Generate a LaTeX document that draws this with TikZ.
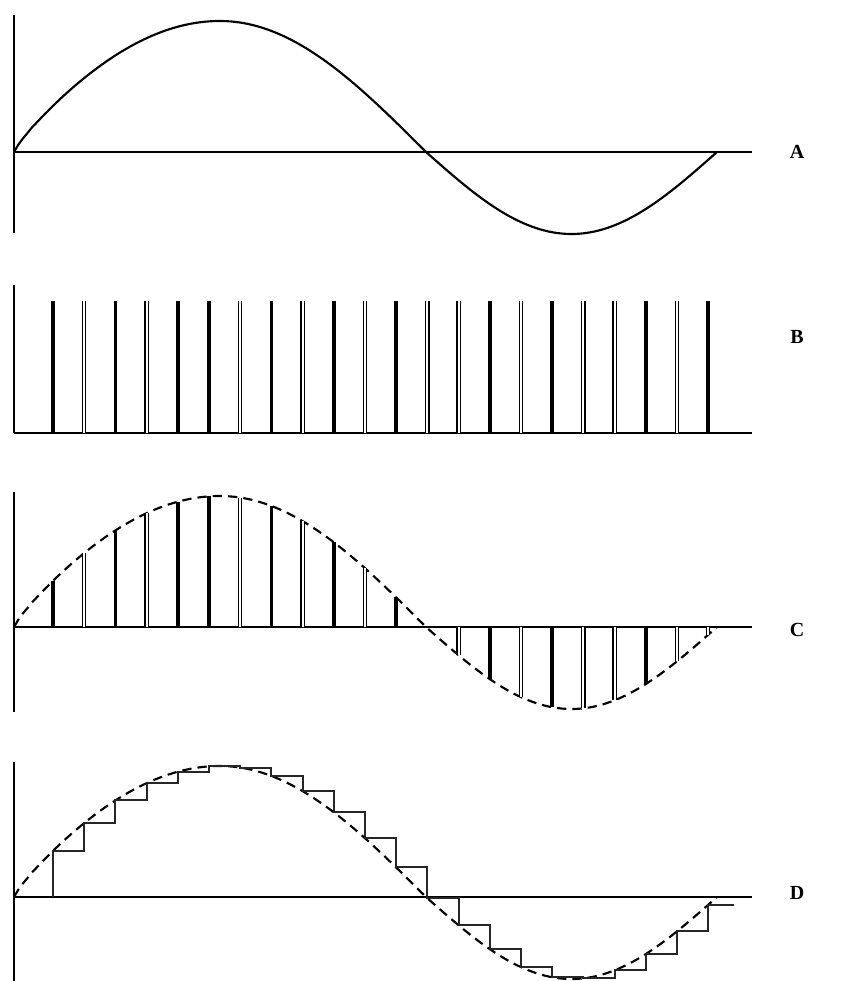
\documentclass[tikz,border=0pt]{standalone}
\usepackage{fontspec}
\setmainfont{Liberation Serif}
\usetikzlibrary{positioning}

\begin{document}
\begin{tikzpicture}[
    x=0.75pt, y=-0.75pt,
    declare function={
      wv(\xx) = (\xx<220)*131*(abs(sin((\xx-14)/412*180))+0.0001)^0.85
              + (\xx>=220)*(\xx<426)*131*sin((\xx-14)/412*180)
              - (\xx>=426)*82*sin((\xx-426)/291*180);
      sx(\kk) = 53+31.2*\kk;
    },
    axis/.style={line width=1.2pt},
    wave/.style={line width=1.6pt},
    dashwave/.style={line width=1.6pt, dash pattern=on 7pt off 4.5pt},
    fullbar/.style={line width=2.6pt},
    openbar/.style={double, line width=0.9pt, double distance=1.6pt},
    stairs/.style={line width=1.5pt, draw=black!85},
    letter/.style={font=\fontsize{15}{18}\selectfont\bfseries}
  ]
    \useasboundingbox (0,0) rectangle (861,981);

    % A: analog signal
    \draw[axis] (14,15) -- (14,233);
    \draw[axis] (14,152) -- (752,152);
    \draw[wave] plot[domain=14:717, samples=160] (\x, {152-wv(\x)});
    \node[letter] (lblA) at (797,152) {A};

    % B: sampling pulses
    \draw[axis] (14,285) -- (14,433);
    \draw[axis] (14,433) -- (752,433);
    \foreach \k/\s in {0/fullbar,1/openbar,2/fullbar,3/openbar,4/fullbar,5/fullbar,
                       6/openbar,7/fullbar,8/openbar,9/fullbar,10/openbar,11/fullbar,
                       12/openbar,13/openbar,14/fullbar,15/openbar,16/fullbar,17/openbar,
                       18/openbar,19/fullbar,20/openbar,21/fullbar}
      \draw[\s] ({sx(\k)},433) -- ({sx(\k)},301);
    \node[letter] (lblB) at (797,337) {B};

    % C: sampled signal
    \draw[axis] (14,492) -- (14,712);
    \draw[axis] (14,627) -- (752,627);
    \draw[dashwave] plot[domain=14:717, samples=160] (\x, {627-wv(\x)});
    \foreach \k/\s in {0/fullbar,1/openbar,2/fullbar,3/openbar,4/fullbar,5/fullbar,
                       6/openbar,7/fullbar,8/openbar,9/fullbar,10/openbar,11/fullbar,
                       13/openbar,14/fullbar,15/openbar,16/fullbar,17/openbar,
                       18/openbar,19/fullbar,20/openbar,21/openbar}
      \draw[\s] ({sx(\k)},627) -- ({sx(\k)},{627-wv(sx(\k))});
    \node[letter] (lblC) at (797,630) {C};

    % D: sample and hold
    \draw[axis] (14,762) -- (14,981);
    \draw[axis] (14,897) -- (752,897);
    \draw[dashwave] plot[domain=14:717, samples=160] (\x, {897-wv(\x)});
    \draw[stairs] ({sx(0)},897)
      \foreach \k in {0,...,21} {
        -- ({sx(\k)},{897-wv(sx(\k))}) -- ({min(sx(\k+1),734)},{897-wv(sx(\k))})
      };
    \node[letter] (lblD) at (797,893) {D};
  \end{tikzpicture}
\end{document}
